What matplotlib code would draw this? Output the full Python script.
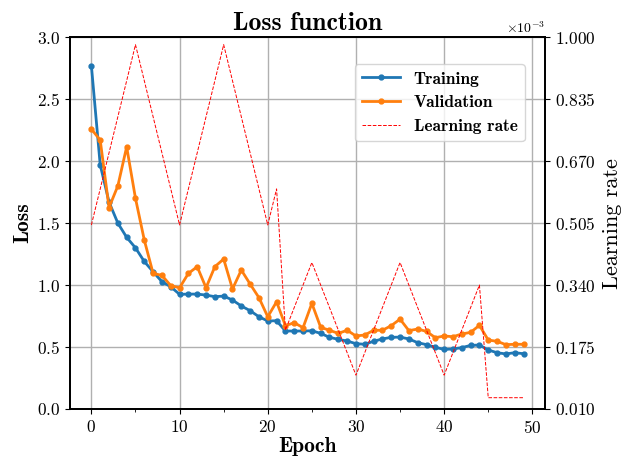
import numpy as np
import matplotlib
matplotlib.use('Agg')
import matplotlib.pyplot as plt
from matplotlib.ticker import MultipleLocator

plt.rcParams['font.family'] = 'serif'
plt.rcParams['font.serif'] = ['cmr10']
plt.rcParams['mathtext.fontset'] = 'cm'
plt.rcParams['axes.formatter.use_mathtext'] = True
plt.rcParams['axes.unicode_minus'] = False

epochs = list(range(50))

train_loss = [2.77, 1.97, 1.67, 1.50, 1.385, 1.30, 1.19, 1.107, 1.027, 0.986,
              0.925, 0.927, 0.927, 0.919, 0.906, 0.911, 0.879, 0.831, 0.793, 0.744,
              0.71, 0.712, 0.629, 0.629, 0.629, 0.631, 0.61, 0.578, 0.562, 0.548,
              0.527, 0.522, 0.546, 0.565, 0.578, 0.58, 0.565, 0.535, 0.519, 0.497,
              0.481, 0.484, 0.495, 0.513, 0.516, 0.476, 0.454, 0.444, 0.454, 0.446]

val_loss = [2.258, 2.17, 1.625, 1.80, 2.115, 1.70, 1.363, 1.094, 1.078, 0.995,
            0.978, 1.094, 1.148, 0.978, 1.148, 1.21, 0.968, 1.121, 1.008, 0.898,
            0.744, 0.865, 0.672, 0.696, 0.656, 0.852, 0.659, 0.635, 0.61, 0.635,
            0.589, 0.597, 0.635, 0.635, 0.672, 0.725, 0.632, 0.645, 0.626, 0.575,
            0.589, 0.583, 0.605, 0.618, 0.675, 0.556, 0.546, 0.519, 0.522, 0.522]

# learning rate in units of 1e-3
lr = [0.5, 0.596, 0.692, 0.788, 0.884, 0.98, 0.884, 0.788, 0.692, 0.596,
      0.5, 0.596, 0.692, 0.788, 0.884, 0.98, 0.884, 0.788, 0.692, 0.596,
      0.5, 0.596, 0.22, 0.28, 0.34, 0.4, 0.34, 0.28, 0.22, 0.16,
      0.1, 0.16, 0.22, 0.28, 0.34, 0.4, 0.34, 0.28, 0.22, 0.16,
      0.1, 0.16, 0.22, 0.28, 0.34, 0.04, 0.04, 0.04, 0.04, 0.04]

fig = plt.figure(figsize=(6.23, 4.59), dpi=100)
ax = fig.add_axes([0.112, 0.109, 0.763, 0.81])
ax2 = ax.twinx()

l1, = ax.plot(epochs, train_loss, '-o', color='#1f77b4', linewidth=2, markersize=3.5, label='Training')
l2, = ax.plot(epochs, val_loss, '-o', color='#ff7f0e', linewidth=2, markersize=3.5, label='Validation')
l3, = ax2.plot(epochs, np.array(lr) * 1e-3, '--', color='red', linewidth=0.7, label='Learning rate')

ax.set_ylim(0, 3)
ax.set_yticks(np.arange(0, 3.01, 0.5))
ax.xaxis.set_major_locator(MultipleLocator(10))
ax.xaxis.set_minor_locator(MultipleLocator(5))
ax.grid(True, which='major', color='#b0b0b0', linewidth=1)
ax.tick_params(labelsize=12.5)
ax2.tick_params(labelsize=12.5)

ax2.set_ylim(0.01e-3, 1e-3)
ax2.set_yticks(np.linspace(0.01e-3, 1e-3, 7))
ax2.ticklabel_format(axis='y', style='sci', scilimits=(0, 0))
ax2.yaxis.get_offset_text().set_fontsize(10)

for a in (ax, ax2):
    for s in a.spines.values():
        s.set_linewidth(1.3)

ax.set_title('Loss function', fontfamily='cmb10', fontsize=18.5, pad=5)
ax.set_xlabel('Epoch', fontfamily='cmb10', fontsize=15.5, labelpad=1)
ax.set_ylabel('Loss', fontfamily='cmb10', fontsize=15.5, labelpad=3)
ax2.set_ylabel('Learning rate', fontsize=16, labelpad=5)

ax2.legend(handles=[l1, l2, l3], loc='upper right', bbox_to_anchor=(0.975, 0.95),
           prop={'family': 'cmb10', 'size': 12.5}, handlelength=2.2)

fig.savefig('out.png', dpi=100)
